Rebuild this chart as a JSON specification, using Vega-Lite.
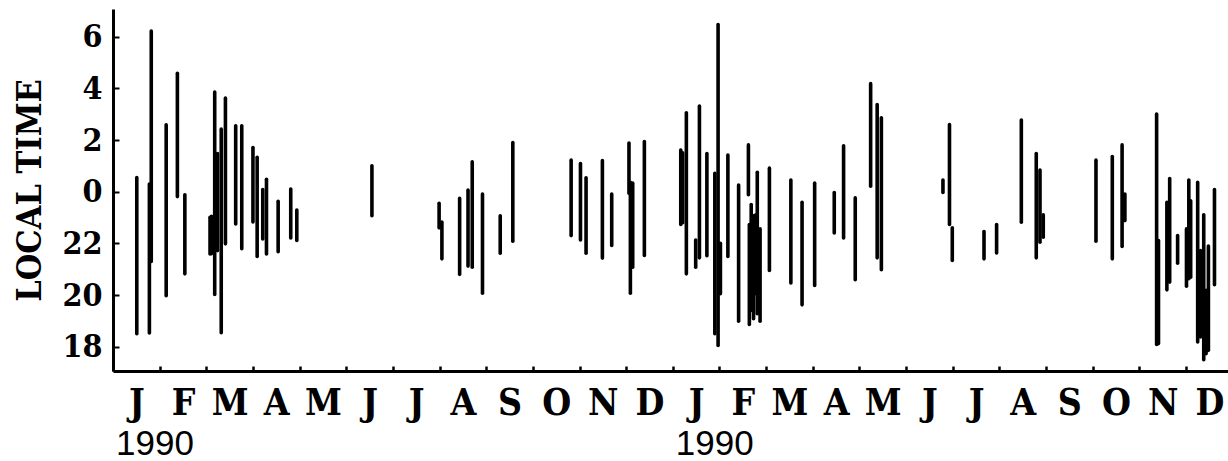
{
  "$schema": "https://vega.github.io/schema/vega-lite/v6.json",
  "width": 1115,
  "height": 362,
  "autosize": {"type": "none"},
  "padding": {"left": 113, "top": 9, "right": 0, "bottom": 90},
  "background": "white",
  "config": {"view": {"stroke": null}},
  "datasets": {
    "bars": [
      {"m": 0.51, "top": 0.55, "bot": -5.5},
      {"m": 0.82, "top": 6.22, "bot": -2.7},
      {"m": 0.78, "top": 0.3, "bot": -5.47},
      {"m": 1.14, "top": 2.59, "bot": -4.03},
      {"m": 1.38, "top": 4.58, "bot": -0.19},
      {"m": 1.54, "top": -0.12, "bot": -3.18},
      {"m": 2.08, "top": -0.99, "bot": -2.41},
      {"m": 2.11, "top": -0.95, "bot": -2.4},
      {"m": 2.18, "top": 3.86, "bot": -3.98},
      {"m": 2.24, "top": 1.48, "bot": -2.28},
      {"m": 2.32, "top": 2.42, "bot": -5.46},
      {"m": 2.41, "top": 3.62, "bot": -2.02},
      {"m": 2.63, "top": 2.55, "bot": -1.25},
      {"m": 2.76, "top": 2.55, "bot": -2.21},
      {"m": 3.0, "top": 1.71, "bot": -1.17},
      {"m": 3.09, "top": 1.33, "bot": -2.51},
      {"m": 3.21, "top": 0.08, "bot": -1.83},
      {"m": 3.29, "top": 0.48, "bot": -2.41},
      {"m": 3.54, "top": -0.37, "bot": -2.32},
      {"m": 3.81, "top": 0.1, "bot": -1.79},
      {"m": 3.94, "top": -0.71, "bot": -1.89},
      {"m": 5.55, "top": 1.0, "bot": -0.93},
      {"m": 6.99, "top": -0.45, "bot": -1.4},
      {"m": 7.05, "top": -1.18, "bot": -2.6},
      {"m": 7.43, "top": -0.26, "bot": -3.2},
      {"m": 7.61, "top": 0.06, "bot": -2.88},
      {"m": 7.7, "top": 1.16, "bot": -2.92},
      {"m": 7.92, "top": -0.09, "bot": -3.93},
      {"m": 8.3, "top": -0.93, "bot": -2.38},
      {"m": 8.57, "top": 1.9, "bot": -1.92},
      {"m": 9.82, "top": 1.22, "bot": -1.7},
      {"m": 10.02, "top": 1.09, "bot": -1.87},
      {"m": 10.14, "top": 0.54, "bot": -2.38},
      {"m": 10.49, "top": 1.2, "bot": -2.57},
      {"m": 10.69, "top": -0.09, "bot": -2.08},
      {"m": 11.06, "top": 1.88, "bot": -0.06},
      {"m": 11.09, "top": 0.36, "bot": -3.93},
      {"m": 11.14, "top": 0.33, "bot": -2.92},
      {"m": 11.39, "top": 1.94, "bot": -2.47},
      {"m": 12.17, "top": 1.61, "bot": -1.27},
      {"m": 12.21, "top": 1.5, "bot": -1.2},
      {"m": 12.29, "top": 3.05, "bot": -3.18},
      {"m": 12.49, "top": -1.87, "bot": -2.92},
      {"m": 12.57, "top": 3.31, "bot": -2.56},
      {"m": 12.73, "top": 1.48, "bot": -2.48},
      {"m": 12.9, "top": 0.71, "bot": -5.5},
      {"m": 12.97, "top": 6.47, "bot": -5.95},
      {"m": 13.02, "top": -2.0, "bot": -3.95},
      {"m": 13.18, "top": 1.42, "bot": -2.51},
      {"m": 13.41, "top": 0.26, "bot": -5.01},
      {"m": 13.62, "top": 1.81, "bot": -0.12},
      {"m": 13.64, "top": -1.27, "bot": -5.14},
      {"m": 13.68, "top": -0.5, "bot": -4.6},
      {"m": 13.73, "top": -0.93, "bot": -4.92},
      {"m": 13.77, "top": -0.9, "bot": -3.95},
      {"m": 13.81, "top": 0.75, "bot": -4.72},
      {"m": 13.87, "top": -1.44, "bot": -5.01},
      {"m": 14.07, "top": 0.91, "bot": -3.05},
      {"m": 14.53, "top": 0.45, "bot": -3.53},
      {"m": 14.77, "top": -0.41, "bot": -4.38},
      {"m": 15.04, "top": 0.33, "bot": -3.63},
      {"m": 15.46, "top": -0.03, "bot": -1.6},
      {"m": 15.66, "top": 1.78, "bot": -1.79},
      {"m": 15.91, "top": -0.24, "bot": -3.41},
      {"m": 16.24, "top": 4.18, "bot": 0.21},
      {"m": 16.38, "top": 3.37, "bot": -2.56},
      {"m": 16.47, "top": 2.86, "bot": -3.02},
      {"m": 17.79, "top": 0.45, "bot": -0.03},
      {"m": 17.93, "top": 2.6, "bot": -1.27},
      {"m": 17.99, "top": -1.4, "bot": -2.66},
      {"m": 18.67, "top": -1.54, "bot": -2.6},
      {"m": 18.94, "top": -1.27, "bot": -2.37},
      {"m": 19.47, "top": 2.77, "bot": -1.18},
      {"m": 19.79, "top": 1.48, "bot": -2.56},
      {"m": 19.87, "top": 0.84, "bot": -1.96},
      {"m": 19.94, "top": -0.89, "bot": -1.76},
      {"m": 21.07, "top": 1.22, "bot": -1.92},
      {"m": 21.42, "top": 1.36, "bot": -2.6},
      {"m": 21.63, "top": 1.81, "bot": -2.12},
      {"m": 21.69, "top": -0.09, "bot": -1.12},
      {"m": 22.37, "top": 3.0, "bot": -5.91},
      {"m": 22.41, "top": -1.89, "bot": -5.88},
      {"m": 22.59, "top": -0.41, "bot": -3.8},
      {"m": 22.65, "top": 0.51, "bot": -3.5},
      {"m": 22.82, "top": -1.7, "bot": -2.77},
      {"m": 23.01, "top": -1.44, "bot": -3.66},
      {"m": 23.06, "top": 0.45, "bot": -3.37},
      {"m": 23.1, "top": -0.35, "bot": -3.31},
      {"m": 23.25, "top": 0.36, "bot": -5.82},
      {"m": 23.31, "top": -2.28, "bot": -5.62},
      {"m": 23.38, "top": -0.89, "bot": -6.5},
      {"m": 23.43, "top": -3.82, "bot": -6.27},
      {"m": 23.48, "top": -2.1, "bot": -6.14},
      {"m": 23.61, "top": 0.08, "bot": -3.6}
    ],
    "years": [
      {"m": 0, "label": "1990"},
      {"m": 12, "label": "1990"}
    ]
  },
  "layer": [
    {
      "data": {"name": "bars"},
      "mark": {"type": "rule", "strokeWidth": 3.6, "strokeCap": "round", "color": "black"},
      "encoding": {
        "x": {
          "field": "m",
          "type": "quantitative",
          "scale": {"domain": [0, 23.9], "nice": false, "zero": false},
          "axis": {
            "values": [0,1,2,3,4,5,6,7,8,9,10,11,12,13,14,15,16,17,18,19,20,21,22,23],
            "labelExpr": "['J','F','M','A','M','J','J','A','S','O','N','D'][datum.value % 12]",
            "labelOffset": 23.3,
            "labelAlign": "center",
            "labelFlush": false,
            "labelOverlap": false,
            "labelBound": false,
            "labelFont": "DejaVu Serif Condensed",
            "labelFontWeight": "bold",
            "labelFontSize": 37,
            "labelColor": "black",
            "labelPadding": 19,
            "tickSize": -5,
            "tickWidth": 2.5,
            "tickColor": "black",
            "domainColor": "black",
            "domainWidth": 3,
            "grid": false,
            "title": null
          }
        },
        "y": {
          "field": "top",
          "type": "quantitative",
          "scale": {"domain": [-6.94, 7.07], "nice": false, "zero": false},
          "axis": {
            "values": [-6,-5,-4,-3,-2,-1,0,1,2,3,4,5,6,7],
            "labelExpr": "abs(datum.value % 2) == 1 ? '' : (datum.value < 0 ? datum.value + 24 : datum.value)",
            "labelFont": "DejaVu Serif Condensed",
            "labelFontWeight": "bold",
            "labelFontSize": 32,
            "labelColor": "black",
            "labelPadding": 17,
            "tickSize": -6,
            "tickWidth": 2,
            "tickColor": "black",
            "domainColor": "black",
            "domainWidth": 3,
            "grid": false,
            "title": "LOCAL TIME",
            "titleFont": "DejaVu Serif Condensed",
            "titleFontWeight": "bold",
            "titleFontSize": 34,
            "titleColor": "black",
            "titlePadding": 14
          }
        },
        "y2": {"field": "bot"}
      }
    },
    {
      "data": {"name": "years"},
      "mark": {"type": "text", "align": "left", "baseline": "alphabetic", "dx": 3, "font": "Liberation Sans", "fontSize": 35, "color": "black", "clip": false},
      "encoding": {
        "x": {"field": "m", "type": "quantitative"},
        "y": {"datum": -10.19},
        "text": {"field": "label"}
      }
    }
  ]
}
